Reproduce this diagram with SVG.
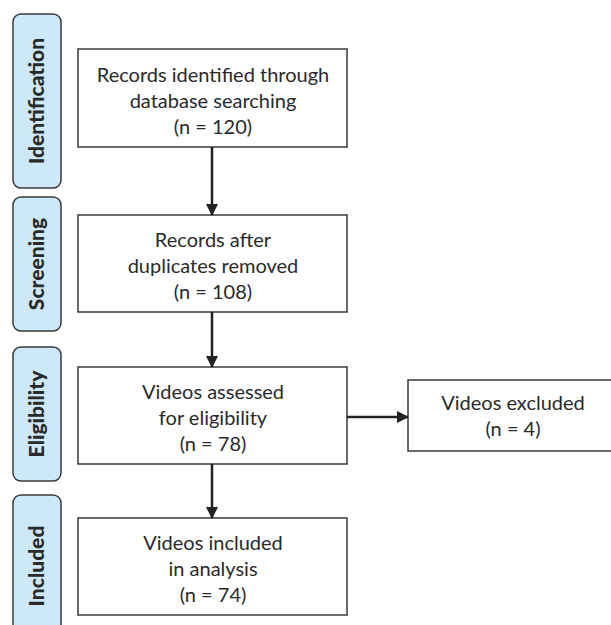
<svg xmlns="http://www.w3.org/2000/svg" width="611" height="625" viewBox="0 0 611 625">
<style>
.stage{fill:#cde9f9;stroke:#3a3a3a;stroke-width:1.5}
.stxt{font-family:Lato,"Liberation Sans",sans-serif;font-weight:900;font-size:21px;fill:#2a2a2a;text-anchor:middle}
.box{fill:#fff;stroke:#3a3a3a;stroke-width:1.5}
.btxt{font-family:Lato,"Liberation Sans",sans-serif;font-size:20px;fill:#2a2a2a;text-anchor:middle}
.conn{stroke:#222;stroke-width:2.5;fill:none}
</style>
<defs>
<marker id="ah" markerWidth="12" markerHeight="12" refX="11" refY="6" orient="auto" markerUnits="userSpaceOnUse">
<path d="M0,0 L12,6 L0,12 Z" fill="#222"/>
</marker>
</defs>
<rect width="611" height="625" fill="#fff"/>
<g id="stage-identification">
<rect class="stage" x="13" y="14" width="48" height="174" rx="8"/>
<text class="stxt" transform="translate(44,101) rotate(-90)">Identification</text>
</g>
<g id="stage-screening">
<rect class="stage" x="13" y="197" width="48" height="134" rx="8"/>
<text class="stxt" transform="translate(44,264) rotate(-90)">Screening</text>
</g>
<g id="stage-eligibility">
<rect class="stage" x="13" y="347" width="48" height="134" rx="8"/>
<text class="stxt" transform="translate(44,414) rotate(-90)">Eligibility</text>
</g>
<g id="stage-included">
<rect class="stage" x="13" y="495" width="48" height="140" rx="8"/>
<text class="stxt" transform="translate(44,566) rotate(-90)">Included</text>
</g>
<g id="node-identified">
<rect class="box" x="78" y="49" width="269" height="98"/>
<text class="btxt" x="213" y="82">Records identified through</text>
<text class="btxt" x="213" y="108">database searching</text>
<text class="btxt" x="213" y="134">(n = 120)</text>
</g>
<g id="node-screened">
<rect class="box" x="78" y="215" width="269" height="97"/>
<text class="btxt" x="213" y="247">Records after</text>
<text class="btxt" x="213" y="273">duplicates removed</text>
<text class="btxt" x="213" y="299">(n = 108)</text>
</g>
<g id="node-eligible">
<rect class="box" x="78" y="367" width="269" height="97"/>
<text class="btxt" x="213" y="399">Videos assessed</text>
<text class="btxt" x="213" y="425">for eligibility</text>
<text class="btxt" x="213" y="451">(n = 78)</text>
</g>
<g id="node-included">
<rect class="box" x="78" y="518" width="269" height="97"/>
<text class="btxt" x="213" y="550">Videos included</text>
<text class="btxt" x="213" y="576">in analysis</text>
<text class="btxt" x="213" y="602">(n = 74)</text>
</g>
<g id="node-excluded">
<rect class="box" x="408" y="380" width="210" height="71"/>
<text class="btxt" x="513" y="410">Videos excluded</text>
<text class="btxt" x="513" y="436">(n = 4)</text>
</g>
<g id="connectors">
<line class="conn" x1="212" y1="147" x2="212" y2="215" marker-end="url(#ah)"/>
<line class="conn" x1="212" y1="312" x2="212" y2="367" marker-end="url(#ah)"/>
<line class="conn" x1="212" y1="464" x2="212" y2="518" marker-end="url(#ah)"/>
<line class="conn" x1="347" y1="417" x2="408" y2="417" marker-end="url(#ah)"/>
</g>
</svg>
